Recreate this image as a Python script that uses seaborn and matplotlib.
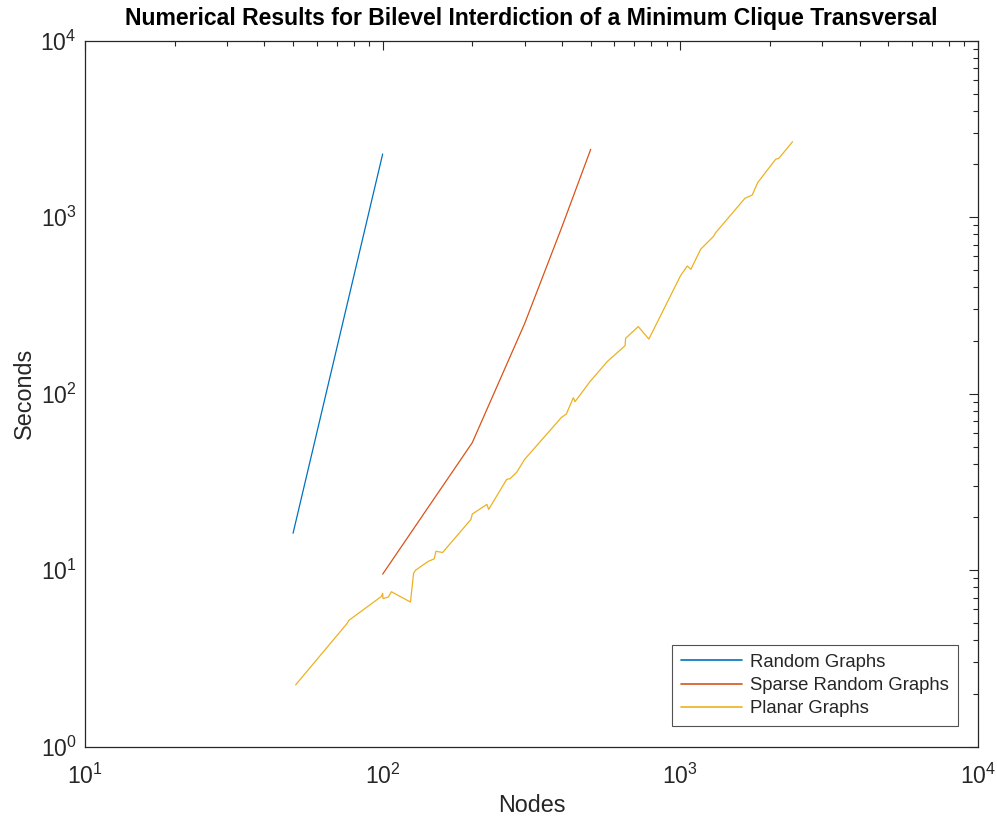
import matplotlib
matplotlib.use("Agg")
import matplotlib.pyplot as plt
import seaborn as sns
import pandas as pd
import numpy as np
from matplotlib.ticker import LogLocator, LogFormatterSciNotation, NullFormatter

# ---- data ----
random_nodes = [50, 100]
random_secs = [16.2, 2280]

sparse_nodes = [100, 200, 300, 400, 500]
sparse_secs = [9.5, 52.8, 250, 880, 2425]

planar_nodes = [51, 76, 77, 99, 100, 100.3, 104.5, 107, 124, 127, 129, 142, 149, 151,
                159, 198, 200, 224, 227, 261, 268, 282, 300, 399, 414, 437, 443, 497,
                568, 652, 655, 722, 784, 1000, 1055, 1085, 1170, 1290, 1314, 1648,
                1744, 1818, 2090, 2143, 2383]
planar_secs = [2.24, 5.0, 5.2, 7.1, 7.4, 6.9, 7.05, 7.55, 6.6, 9.6, 10.0, 11.2, 11.6, 12.8,
               12.6, 19.4, 20.8, 23.6, 22.1, 32.7, 33.0, 35.9, 42.5, 73.5, 76.7, 94.9, 90.2, 117,
               152, 187, 206, 240, 204, 464, 529, 507, 658, 776, 817, 1279,
               1336, 1568, 2128, 2157, 2678]

series_names = ["Random Graphs", "Sparse Random Graphs", "Planar Graphs"]
colors = ["#0072BD", "#D95319", "#EDB120"]

title = "Numerical Results for Bilevel Interdiction of a Minimum Clique Transversal"

frames = []
for name, xs, ys in zip(series_names, [random_nodes, sparse_nodes, planar_nodes],
                        [random_secs, sparse_secs, planar_secs]):
    frames.append(pd.DataFrame({"Nodes": xs, "Seconds": ys, "Series": name}))
df = pd.concat(frames, ignore_index=True)

sns.set_style("white")
plt.rcParams["font.family"] = ["Liberation Sans", "DejaVu Sans"]
plt.rcParams["mathtext.fontset"] = "custom"
plt.rcParams["mathtext.rm"] = "Liberation Sans"
plt.rcParams["mathtext.it"] = "Liberation Sans:italic"
plt.rcParams["mathtext.bf"] = "Liberation Sans:bold"

axcol = "#262626"
fig = plt.figure(figsize=(9.97, 8.19), dpi=100)
ax = fig.add_axes([85 / 997, 1 - 746.7 / 819, (978 - 85) / 997, (746.7 - 40.7) / 819])

sns.lineplot(data=df, x="Nodes", y="Seconds", hue="Series", hue_order=series_names,
             palette=colors, sort=False, estimator=None, units="Series",
             linewidth=0.9, ax=ax)

ax.set_xscale("log")
ax.set_yscale("log")
ax.set_xlim(10, 1e4)
ax.set_ylim(1, 1e4)

for a in (ax.xaxis, ax.yaxis):
    a.set_major_locator(LogLocator(base=10, numticks=10))
    a.set_minor_locator(LogLocator(base=10, subs=np.arange(2, 10), numticks=100))
    a.set_major_formatter(LogFormatterSciNotation())
    a.set_minor_formatter(NullFormatter())

ax.tick_params(which="both", direction="in", top=True, right=True, colors=axcol,
               labelcolor=axcol, labelsize=16.5, width=0.8)
ax.tick_params(which="major", length=6.5)
ax.tick_params(which="minor", length=3.8)
ax.tick_params(axis="x", which="major", pad=12)
ax.tick_params(axis="y", which="major", pad=6)
for s in ax.spines.values():
    s.set_visible(True)
    s.set_color(axcol)
    s.set_linewidth(0.9)

ax.set_xlabel("Nodes", fontsize=16.8, color=axcol, labelpad=4)
ax.set_ylabel("Seconds", fontsize=16.8, color=axcol, labelpad=3)
ax.set_title(title, fontsize=16.6, fontweight="bold", color="black", pad=11)

leg = ax.legend(loc="lower right", fontsize=13.3, frameon=True, fancybox=False,
                borderaxespad=1.1, handlelength=3.3, handletextpad=0.4,
                borderpad=0.5, labelspacing=0.33)
leg.get_frame().set_edgecolor(axcol)
leg.get_frame().set_linewidth(0.8)
for t in leg.get_texts():
    t.set_color(axcol)
for l in leg.get_lines():
    l.set_linewidth(1.2)

fig.savefig("out.png", dpi=100, facecolor="white")
